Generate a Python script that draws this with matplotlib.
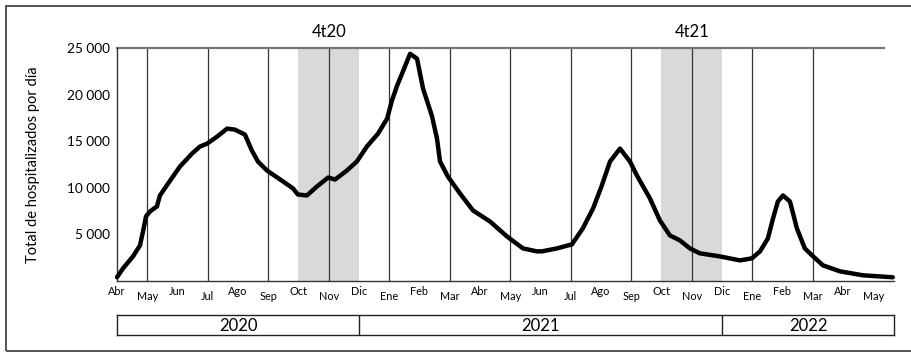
import numpy as np
import matplotlib.pyplot as plt
from matplotlib.patches import Rectangle

plt.rcParams['font.family'] = ['Lato', 'DejaVu Sans']

# month index: 0 = Abr 2020, 1 = May 2020, ...
months = [0.00, 0.20, 0.53, 0.76, 0.86, 0.96, 1.09, 1.32, 1.42, 1.69, 2.08, 2.48,
          2.74, 2.98, 3.31, 3.64, 3.90, 4.23, 4.46, 4.66, 4.96, 5.49, 5.82, 5.98,
          6.28, 6.61, 6.98, 7.21, 7.60, 7.93, 8.26, 8.63, 8.93, 9.09, 9.26, 9.45,
          9.69, 9.92, 10.12, 10.41, 10.58, 10.68, 10.94, 11.34, 11.77, 12.33,
          12.89, 13.42, 13.88, 14.05, 14.55, 15.04, 15.40, 15.74, 16.03, 16.30,
          16.63, 16.96, 17.19, 17.62, 17.95, 18.28, 18.61, 18.94, 19.27, 19.93,
          20.60, 20.99, 21.26, 21.52, 21.69, 21.85, 22.02, 22.25, 22.48, 22.74,
          22.98, 23.34, 23.90, 24.66, 25.65]
hosp = [400, 1360, 2645, 3820, 5320, 6930, 7460, 8000, 9180, 10460, 12280, 13670,
        14420, 14740, 15490, 16350, 16240, 15710, 13990, 12820, 11850, 10680, 9930, 9280,
        9180, 10140, 11100, 10890, 11850, 12820, 14420, 15810, 17420, 19350, 20950, 22450,
        24380, 23850, 20630, 17740, 15280, 12820, 11210, 9390, 7570, 6390,
        4790, 3500, 3180, 3180, 3500, 3930, 5640, 7780, 10250, 12820,
        14210, 12820, 11320, 8860, 6500, 4890, 4360, 3500, 2970, 2640,
        2210, 2430, 3180, 4570, 6710, 8530, 9180, 8530, 5640, 3500,
        2750, 1680, 1040, 610, 400]

month_labels = ['Abr', 'May', 'Jun', 'Jul', 'Ago', 'Sep', 'Oct', 'Nov', 'Dic',
                'Ene', 'Feb', 'Mar', 'Abr', 'May', 'Jun', 'Jul', 'Ago', 'Sep',
                'Oct', 'Nov', 'Dic', 'Ene', 'Feb', 'Mar', 'Abr', 'May']
yticks = [5000, 10000, 15000, 20000, 25000]
ytick_labels = ['5 000', '10 000', '15 000', '20 000', '25 000']
quarters = [('4t20', 6, 8), ('4t21', 18, 20)]
years = [('2020', 0, 8), ('2021', 8, 20), ('2022', 20, 25.69)]

W, H = 911, 352
fig = plt.figure(figsize=(W/100, H/100), dpi=100)

x0, x1 = 117, 894
ax = fig.add_axes([x0/W, (H-281)/H, (x1-x0)/W, (281-48)/H])
xmax = 25.69
ax.set_xlim(0, xmax)
ax.set_ylim(0, 25000)

for name, a, b in quarters:
    ax.axvspan(a, b, color='#d9d9d9', lw=0, zorder=0)
    ax.text((a+b)/2, 25900, name, ha='center', va='bottom', fontsize=12)

for i in range(1, 24, 2):
    ax.axvline(i, color='#333333', lw=0.9, zorder=1)

ax.plot(months, hosp, color='black', lw=3.2, solid_capstyle='round',
        solid_joinstyle='round', zorder=3, clip_on=False)

ax.plot([0, 25.35], [25000, 25000], color='#777777', lw=1.6, clip_on=False, zorder=2)

for s in ['top', 'right']:
    ax.spines[s].set_visible(False)
ax.spines['left'].set_color('#333333')
ax.spines['bottom'].set_color('#333333')
ax.spines['left'].set_linewidth(1.0)
ax.spines['bottom'].set_linewidth(1.0)

ax.set_yticks(yticks)
ax.set_yticklabels(ytick_labels, fontsize=9.8)
ax.tick_params(axis='y', length=0, pad=5)
ax.set_xticks([])
for i, lab in enumerate(month_labels):
    yoff = -1150 if i % 2 == 0 else -1650
    ax.text(i, yoff, lab, ha='center', va='center', fontsize=7.8)

ax.set_ylabel('Total de hospitalizados por día', fontsize=10.5)
ax.yaxis.set_label_coords(-0.099, 0.5)

# year band
ax2 = fig.add_axes([x0/W, (H-335)/H, (x1-x0)/W, 20/H])
ax2.set_xlim(0, xmax)
ax2.set_ylim(0, 1)
ax2.set_xticks([])
ax2.set_yticks([])
for s in ax2.spines.values():
    s.set_linewidth(1.0)
    s.set_color('#222222')
for name, a, b in years:
    if a > 0:
        ax2.axvline(a, color='#222222', lw=1.0)
    ax2.text((a+b)/2, 0.45, name, ha='center', va='center', fontsize=12)

# outer frame
fig.patches.append(Rectangle((5.5/W, 1.5/H), 1.2, (H-7)/H, transform=fig.transFigure,
                             fill=False, edgecolor='#444444', lw=1.3))

fig.savefig('out.png', dpi=100)
